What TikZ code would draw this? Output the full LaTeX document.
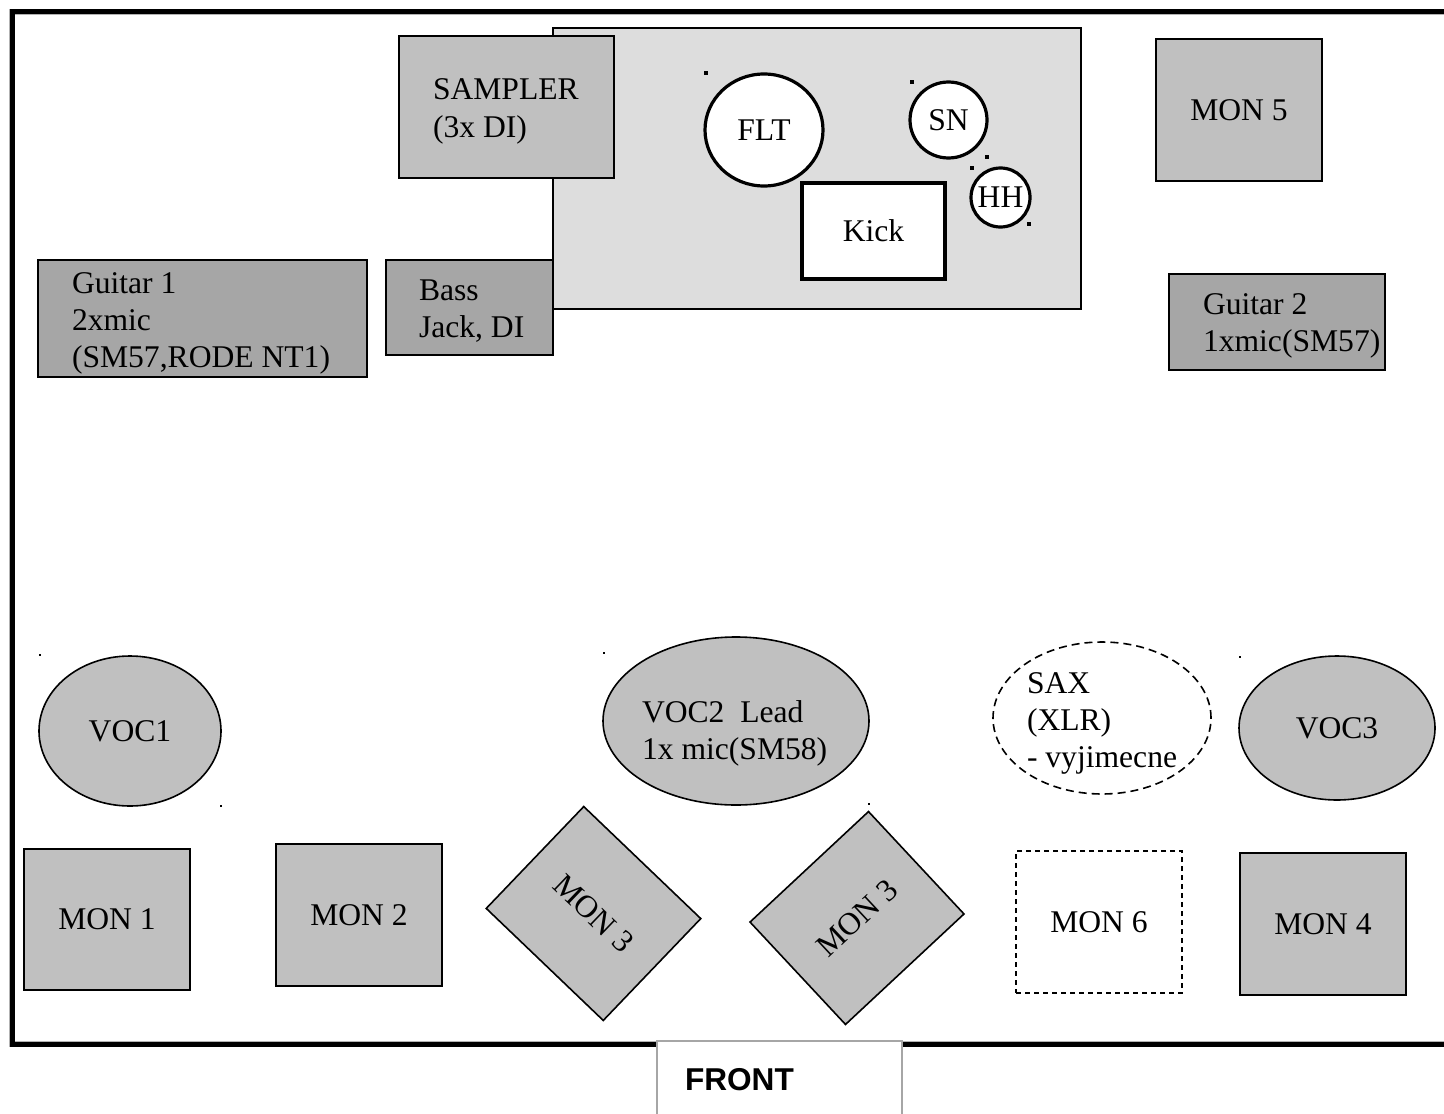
\documentclass[tikz,border=0pt]{standalone}
\usepackage{fontspec}
\setmainfont{Liberation Serif}
\setsansfont{Liberation Sans}
\usetikzlibrary{shapes.geometric}
\definecolor{boxgray}{HTML}{C0C0C0}
\definecolor{darkgray2}{HTML}{A6A6A6}
\definecolor{risergray}{HTML}{DDDDDD}
\newcommand{\mlines}[1]{\begin{tabular}[t]{@{}l@{}}#1\end{tabular}}
\begin{document}
\begin{tikzpicture}[x=0.5pt,y=-0.5pt,
  every node/.style={inner sep=0pt,outer sep=0pt,font=\fontsize{15.8}{18.5}\selectfont},
  box/.style={draw=black,line width=0.8pt,fill=boxgray,rectangle},
  darkbox/.style={draw=black,line width=0.8pt,fill=darkgray2,rectangle},
  drum/.style={draw=black,line width=1.6pt,fill=white},
  voc/.style={draw=black,line width=0.8pt,fill=boxgray,ellipse},
  lbl/.style={anchor=base west},
  dotmark/.style={fill=black,minimum size=1.6pt,rectangle},
  tinydot/.style={fill=black,minimum size=0.9pt,rectangle}]
\useasboundingbox (0,0) rectangle (1444,1113);
\fill[white] (0,0) rectangle (1444,1113);
% stage border
\coordinate (tl) at (12,12);
\coordinate (tr) at (1450,12);
\coordinate (bl) at (12,1044);
\coordinate (br) at (1450,1044);
\draw[line width=3.1pt,gray!60] (tr) -- (tl) -- (bl) -- (br);
\draw[line width=2.5pt,black] (tr) -- (tl) -- (bl) -- (br);
% drum riser
\node[draw=black,line width=0.8pt,fill=risergray,minimum width=264pt,minimum height=140.5pt] (riser) at (817,168.5) {};
% sampler
\node[box,minimum width=107.5pt,minimum height=71pt] (sampler) at (506.5,107) {};
\node[lbl] (samplert) at (433,100) {\mlines{SAMPLER\\(3x DI)}};
% drums
\node[drum,ellipse,minimum width=59pt,minimum height=56pt] (flt) at (764,130) {FLT};
\node[drum,ellipse,minimum width=38.5pt,minimum height=38pt] (sn) at (948.5,120) {SN};
\node[drum,circle,minimum size=29.5pt] (hh) at (1000.5,197.5) {HH};
\node[drum,rectangle,minimum width=71.5pt,minimum height=48pt] (kick) at (873.5,231) {Kick};
\node[dotmark] (d1) at (706,73) {};
\node[dotmark] (d2) at (912,82) {};
\node[dotmark] (d3) at (987,157) {};
\node[dotmark] (d4) at (972,168) {};
\node[dotmark] (d5) at (1029,224) {};
% mon 5
\node[box,minimum width=83pt,minimum height=71pt] (mon5) at (1239,110) {MON 5};
% guitars and bass
\node[darkbox,minimum width=164.5pt,minimum height=58.5pt] (gtr1) at (202.5,318.5) {};
\node[lbl] (gtr1t) at (72,293) {\mlines{Guitar 1\\2xmic\\(SM57,RODE NT1)}};
\node[darkbox,minimum width=83.5pt,minimum height=47.5pt] (bass) at (469.5,307.5) {};
\node[lbl] (basst) at (419,300) {\mlines{Bass\\Jack, DI}};
\node[darkbox,minimum width=108pt,minimum height=48pt] (gtr2) at (1277,322) {};
\node[lbl] (gtr2t) at (1203,314) {\mlines{Guitar 2\\1xmic(SM57)}};
% vocals
\node[voc,minimum width=91pt,minimum height=75pt] (voc1) at (130,731) {VOC1};
\node[voc,minimum width=133pt,minimum height=84pt] (voc2) at (736,721) {};
\node[lbl] (voc2t) at (642,722) {\mlines{VOC2\ \ Lead\\1x mic(SM58)}};
\node[draw=black,line width=0.8pt,dash pattern=on 4pt off 2.5pt,fill=white,ellipse,minimum width=109pt,minimum height=76pt] (sax) at (1102,718) {};
\node[lbl] (saxt) at (1027,693) {\mlines{SAX\\(XLR)\\- vyjimecne}};
\node[voc,minimum width=98pt,minimum height=72pt] (voc3) at (1337,728) {VOC3};
\node[tinydot] (e1) at (40,655) {};
\node[tinydot] (e2) at (221,806) {};
\node[tinydot] (e3) at (604,653) {};
\node[tinydot] (e4) at (869,804) {};
\node[tinydot] (e5) at (1240,657) {};
% monitors
\node[box,minimum width=83pt,minimum height=70.5pt] (mon1) at (107,919.5) {MON 1};
\node[box,minimum width=83pt,minimum height=71pt] (mon2) at (359,915) {MON 2};
\node[box,minimum width=81pt,minimum height=70.5pt,rotate=-43.75] (mon3l) at (593.5,913.5) {MON 3};
\node[box,minimum width=81pt,minimum height=70pt,rotate=43] (mon3r) at (857,918) {MON 3};
\node[draw=black,line width=0.8pt,dash pattern=on 2.5pt off 2pt,fill=white,minimum width=83pt,minimum height=71pt] (mon6) at (1099,922) {MON 6};
\node[box,minimum width=83pt,minimum height=71pt] (mon4) at (1323,924) {MON 4};
% front
\node[draw=gray!70,line width=0.6pt,fill=white,minimum width=122.5pt,minimum height=45pt,anchor=north west] (front) at (657,1041) {};
\node[lbl,font=\fontsize{15.8}{18.5}\selectfont\sffamily\bfseries] (frontt) at (685,1090) {FRONT};
\end{tikzpicture}
\end{document}
